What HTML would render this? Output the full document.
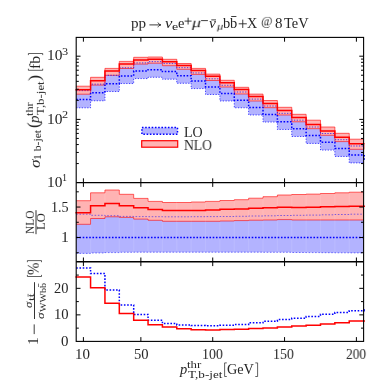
<!DOCTYPE html>
<html><head><meta charset="utf-8"><title>plot</title>
<style>
html,body{margin:0;padding:0;background:#fff;}
body{width:374px;height:380px;position:relative;overflow:hidden;font-family:"Liberation Serif",serif;color:#262626;}
.t{position:absolute;white-space:nowrap;line-height:1;transform-origin:0 0;will-change:transform;}
.tk{font-size:12.5px;}
.r{text-align:right;}
.rot{transform-origin:0 0;transform:rotate(-90deg);}
i{font-style:italic;}
</style></head><body>
<svg width="374" height="380" viewBox="0 0 374 380" style="position:absolute;left:0;top:0">
<rect width="374" height="380" fill="#fff"/>
<g>
<path d="M76.20 90.61 L90.57 90.61 L90.57 84.17 L104.94 84.17 L104.94 75.30 L119.31 75.30 L119.31 67.73 L133.68 67.73 L133.68 62.90 L148.05 62.90 L148.05 61.64 L162.42 61.64 L162.42 63.57 L176.79 63.57 L176.79 67.67 L191.16 67.67 L191.16 72.94 L205.53 72.94 L205.53 78.80 L219.90 78.80 L219.90 85.27 L234.27 85.27 L234.27 92.00 L248.64 92.00 L248.64 99.10 L263.01 99.10 L263.01 106.03 L277.38 106.03 L277.38 113.34 L291.75 113.34 L291.75 120.17 L306.12 120.17 L306.12 127.00 L320.49 127.00 L320.49 133.50 L334.86 133.50 L334.86 139.71 L349.23 139.71 L349.23 146.01 L363.60 146.01 L363.60 162.90 L349.23 162.90 L349.23 156.44 L334.86 156.44 L334.86 150.08 L320.49 150.08 L320.49 143.42 L306.12 143.42 L306.12 136.46 L291.75 136.46 L291.75 129.44 L277.38 129.44 L277.38 122.04 L263.01 122.04 L263.01 114.98 L248.64 114.98 L248.64 107.78 L234.27 107.78 L234.27 100.98 L219.90 100.98 L219.90 94.48 L205.53 94.48 L205.53 88.58 L191.16 88.58 L191.16 83.28 L176.79 83.28 L176.79 79.18 L162.42 79.18 L162.42 77.28 L148.05 77.28 L148.05 78.58 L133.68 78.58 L133.68 83.54 L119.31 83.54 L119.31 91.52 L104.94 91.52 L104.94 100.76 L90.57 100.76 L90.57 107.80 L76.20 107.80 Z" fill="#b3b3ff"/>
<path d="M76.20 86.20 L90.57 86.20 L90.57 77.30 L104.94 77.30 L104.94 68.40 L119.31 68.40 L119.31 61.40 L133.68 61.40 L133.68 57.30 L148.05 57.30 L148.05 57.00 L162.42 57.00 L162.42 59.30 L176.79 59.30 L176.79 63.50 L191.16 63.50 L191.16 68.40 L205.53 68.40 L205.53 74.10 L219.90 74.10 L219.90 80.30 L234.27 80.30 L234.27 87.30 L248.64 87.30 L248.64 94.10 L263.01 94.10 L263.01 100.50 L277.38 100.50 L277.38 107.30 L291.75 107.30 L291.75 114.30 L306.12 114.30 L306.12 120.20 L320.49 120.20 L320.49 127.00 L334.86 127.00 L334.86 133.30 L349.23 133.30 L349.23 139.20 L363.60 139.20 L363.60 149.30 L349.23 149.30 L349.23 141.60 L334.86 141.60 L334.86 135.30 L320.49 135.30 L320.49 128.70 L306.12 128.70 L306.12 121.80 L291.75 121.80 L291.75 115.00 L277.38 115.00 L277.38 107.70 L263.01 107.70 L263.01 101.00 L248.64 101.00 L248.64 94.00 L234.27 94.00 L234.27 87.00 L219.90 87.00 L219.90 80.50 L205.53 80.50 L205.53 74.40 L191.16 74.40 L191.16 69.30 L176.79 69.30 L176.79 65.70 L162.42 65.70 L162.42 63.20 L148.05 63.20 L148.05 64.10 L133.68 64.10 L133.68 68.50 L119.31 68.50 L119.31 75.30 L104.94 75.30 L104.94 85.10 L90.57 85.10 L90.57 94.20 L76.20 94.20 Z" fill="#ffb3b3"/>
<clipPath id="c1"><path d="M76.20 90.61 L90.57 90.61 L90.57 84.17 L104.94 84.17 L104.94 75.30 L119.31 75.30 L119.31 67.73 L133.68 67.73 L133.68 62.90 L148.05 62.90 L148.05 61.64 L162.42 61.64 L162.42 63.57 L176.79 63.57 L176.79 67.67 L191.16 67.67 L191.16 72.94 L205.53 72.94 L205.53 78.80 L219.90 78.80 L219.90 85.27 L234.27 85.27 L234.27 92.00 L248.64 92.00 L248.64 99.10 L263.01 99.10 L263.01 106.03 L277.38 106.03 L277.38 113.34 L291.75 113.34 L291.75 120.17 L306.12 120.17 L306.12 127.00 L320.49 127.00 L320.49 133.50 L334.86 133.50 L334.86 139.71 L349.23 139.71 L349.23 146.01 L363.60 146.01 L363.60 162.90 L349.23 162.90 L349.23 156.44 L334.86 156.44 L334.86 150.08 L320.49 150.08 L320.49 143.42 L306.12 143.42 L306.12 136.46 L291.75 136.46 L291.75 129.44 L277.38 129.44 L277.38 122.04 L263.01 122.04 L263.01 114.98 L248.64 114.98 L248.64 107.78 L234.27 107.78 L234.27 100.98 L219.90 100.98 L219.90 94.48 L205.53 94.48 L205.53 88.58 L191.16 88.58 L191.16 83.28 L176.79 83.28 L176.79 79.18 L162.42 79.18 L162.42 77.28 L148.05 77.28 L148.05 78.58 L133.68 78.58 L133.68 83.54 L119.31 83.54 L119.31 91.52 L104.94 91.52 L104.94 100.76 L90.57 100.76 L90.57 107.80 L76.20 107.80 Z"/><path d="M76.20 86.20 L90.57 86.20 L90.57 77.30 L104.94 77.30 L104.94 68.40 L119.31 68.40 L119.31 61.40 L133.68 61.40 L133.68 57.30 L148.05 57.30 L148.05 57.00 L162.42 57.00 L162.42 59.30 L176.79 59.30 L176.79 63.50 L191.16 63.50 L191.16 68.40 L205.53 68.40 L205.53 74.10 L219.90 74.10 L219.90 80.30 L234.27 80.30 L234.27 87.30 L248.64 87.30 L248.64 94.10 L263.01 94.10 L263.01 100.50 L277.38 100.50 L277.38 107.30 L291.75 107.30 L291.75 114.30 L306.12 114.30 L306.12 120.20 L320.49 120.20 L320.49 127.00 L334.86 127.00 L334.86 133.30 L349.23 133.30 L349.23 139.20 L363.60 139.20 L363.60 149.30 L349.23 149.30 L349.23 141.60 L334.86 141.60 L334.86 135.30 L320.49 135.30 L320.49 128.70 L306.12 128.70 L306.12 121.80 L291.75 121.80 L291.75 115.00 L277.38 115.00 L277.38 107.70 L263.01 107.70 L263.01 101.00 L248.64 101.00 L248.64 94.00 L234.27 94.00 L234.27 87.00 L219.90 87.00 L219.90 80.50 L205.53 80.50 L205.53 74.40 L191.16 74.40 L191.16 69.30 L176.79 69.30 L176.79 65.70 L162.42 65.70 L162.42 63.20 L148.05 63.20 L148.05 64.10 L133.68 64.10 L133.68 68.50 L119.31 68.50 L119.31 75.30 L104.94 75.30 L104.94 85.10 L90.57 85.10 L90.57 94.20 L76.20 94.20 Z"/></clipPath>
<path d="M90.57 37.4 V182.6 M104.94 37.4 V182.6 M119.31 37.4 V182.6 M133.68 37.4 V182.6 M148.05 37.4 V182.6 M162.42 37.4 V182.6 M176.79 37.4 V182.6 M191.16 37.4 V182.6 M205.53 37.4 V182.6 M219.90 37.4 V182.6 M234.27 37.4 V182.6 M248.64 37.4 V182.6 M263.01 37.4 V182.6 M277.38 37.4 V182.6 M291.75 37.4 V182.6 M306.12 37.4 V182.6 M320.49 37.4 V182.6 M334.86 37.4 V182.6 M349.23 37.4 V182.6" stroke="#fff" stroke-opacity="0.10" stroke-width="1.2" clip-path="url(#c1)"/>
<path d="M76.20 86.20 L90.57 86.20 L90.57 77.30 L104.94 77.30 L104.94 68.40 L119.31 68.40 L119.31 61.40 L133.68 61.40 L133.68 57.30 L148.05 57.30 L148.05 57.00 L162.42 57.00 L162.42 59.30 L176.79 59.30 L176.79 63.50 L191.16 63.50 L191.16 68.40 L205.53 68.40 L205.53 74.10 L219.90 74.10 L219.90 80.30 L234.27 80.30 L234.27 87.30 L248.64 87.30 L248.64 94.10 L263.01 94.10 L263.01 100.50 L277.38 100.50 L277.38 107.30 L291.75 107.30 L291.75 114.30 L306.12 114.30 L306.12 120.20 L320.49 120.20 L320.49 127.00 L334.86 127.00 L334.86 133.30 L349.23 133.30 L349.23 139.20 L363.60 139.20" fill="none" stroke="#ff0000" stroke-width="0.6"/>
<path d="M76.20 94.20 L90.57 94.20 L90.57 85.10 L104.94 85.10 L104.94 75.30 L119.31 75.30 L119.31 68.50 L133.68 68.50 L133.68 64.10 L148.05 64.10 L148.05 63.20 L162.42 63.20 L162.42 65.70 L176.79 65.70 L176.79 69.30 L191.16 69.30 L191.16 74.40 L205.53 74.40 L205.53 80.50 L219.90 80.50 L219.90 87.00 L234.27 87.00 L234.27 94.00 L248.64 94.00 L248.64 101.00 L263.01 101.00 L263.01 107.70 L277.38 107.70 L277.38 115.00 L291.75 115.00 L291.75 121.80 L306.12 121.80 L306.12 128.70 L320.49 128.70 L320.49 135.30 L334.86 135.30 L334.86 141.60 L349.23 141.60 L349.23 149.30 L363.60 149.30" fill="none" stroke="#ff0000" stroke-width="0.6"/>
<path d="M76.20 90.61 L90.57 90.61 L90.57 84.17 L104.94 84.17 L104.94 75.30 L119.31 75.30 L119.31 67.73 L133.68 67.73 L133.68 62.90 L148.05 62.90 L148.05 61.64 L162.42 61.64 L162.42 63.57 L176.79 63.57 L176.79 67.67 L191.16 67.67 L191.16 72.94 L205.53 72.94 L205.53 78.80 L219.90 78.80 L219.90 85.27 L234.27 85.27 L234.27 92.00 L248.64 92.00 L248.64 99.10 L263.01 99.10 L263.01 106.03 L277.38 106.03 L277.38 113.34 L291.75 113.34 L291.75 120.17 L306.12 120.17 L306.12 127.00 L320.49 127.00 L320.49 133.50 L334.86 133.50 L334.86 139.71 L349.23 139.71 L349.23 146.01 L363.60 146.01" fill="none" stroke="#0000ff" stroke-width="0.7" stroke-dasharray="1.3 1.45"/>
<path d="M76.20 107.80 L90.57 107.80 L90.57 100.76 L104.94 100.76 L104.94 91.52 L119.31 91.52 L119.31 83.54 L133.68 83.54 L133.68 78.58 L148.05 78.58 L148.05 77.28 L162.42 77.28 L162.42 79.18 L176.79 79.18 L176.79 83.28 L191.16 83.28 L191.16 88.58 L205.53 88.58 L205.53 94.48 L219.90 94.48 L219.90 100.98 L234.27 100.98 L234.27 107.78 L248.64 107.78 L248.64 114.98 L263.01 114.98 L263.01 122.04 L277.38 122.04 L277.38 129.44 L291.75 129.44 L291.75 136.46 L306.12 136.46 L306.12 143.42 L320.49 143.42 L320.49 150.08 L334.86 150.08 L334.86 156.44 L349.23 156.44 L349.23 162.90 L363.60 162.90" fill="none" stroke="#0000ff" stroke-width="0.7" stroke-dasharray="1.3 1.45"/>
<path d="M76.20 99.50 L90.57 99.50 L90.57 92.70 L104.94 92.70 L104.94 83.70 L119.31 83.70 L119.31 75.90 L133.68 75.90 L133.68 71.00 L148.05 71.00 L148.05 69.70 L162.42 69.70 L162.42 71.60 L176.79 71.60 L176.79 75.70 L191.16 75.70 L191.16 81.00 L205.53 81.00 L205.53 86.90 L219.90 86.90 L219.90 93.40 L234.27 93.40 L234.27 100.20 L248.64 100.20 L248.64 107.40 L263.01 107.40 L263.01 114.40 L277.38 114.40 L277.38 121.80 L291.75 121.80 L291.75 128.70 L306.12 128.70 L306.12 135.60 L320.49 135.60 L320.49 142.20 L334.86 142.20 L334.86 148.50 L349.23 148.50 L349.23 154.90 L364.20 154.90 L364.20 161.20" fill="none" stroke="#0000ff" stroke-width="1.5" stroke-dasharray="1.6 1.65"/>
<path d="M76.20 89.80 L90.57 89.80 L90.57 80.70 L104.94 80.70 L104.94 70.90 L119.31 70.90 L119.31 64.10 L133.68 64.10 L133.68 60.10 L148.05 60.10 L148.05 59.30 L162.42 59.30 L162.42 61.70 L176.79 61.70 L176.79 65.40 L191.16 65.40 L191.16 70.40 L205.53 70.40 L205.53 76.20 L219.90 76.20 L219.90 82.70 L234.27 82.70 L234.27 89.60 L248.64 89.60 L248.64 96.50 L263.01 96.50 L263.01 103.40 L277.38 103.40 L277.38 110.50 L291.75 110.50 L291.75 117.50 L306.12 117.50 L306.12 124.40 L320.49 124.40 L320.49 131.00 L334.86 131.00 L334.86 137.30 L349.23 137.30 L349.23 143.70 L364.20 143.70" fill="none" stroke="#ff0000" stroke-width="1.5" stroke-linejoin="miter" stroke-linecap="square"/>
</g>
<g>
<path d="M76.20 214.20 L90.57 214.20 L90.57 215.30 L104.94 215.30 L104.94 215.70 L119.31 215.70 L119.31 216.40 L133.68 216.40 L133.68 216.60 L148.05 216.60 L148.05 216.70 L162.42 216.70 L162.42 216.80 L176.79 216.80 L176.79 216.80 L191.16 216.80 L191.16 216.70 L205.53 216.70 L205.53 216.60 L219.90 216.60 L219.90 216.50 L234.27 216.50 L234.27 216.30 L248.64 216.30 L248.64 216.00 L263.01 216.00 L263.01 215.80 L277.38 215.80 L277.38 215.50 L291.75 215.50 L291.75 215.30 L306.12 215.30 L306.12 215.10 L320.49 215.10 L320.49 214.80 L334.86 214.80 L334.86 214.50 L349.23 214.50 L349.23 214.20 L363.60 214.20 L363.60 252.90 L349.23 252.90 L349.23 252.80 L334.86 252.80 L334.86 252.70 L320.49 252.70 L320.49 252.60 L306.12 252.60 L306.12 252.50 L291.75 252.50 L291.75 252.30 L277.38 252.30 L277.38 252.30 L263.01 252.30 L263.01 252.20 L248.64 252.20 L248.64 252.20 L234.27 252.20 L234.27 252.20 L219.90 252.20 L219.90 252.20 L205.53 252.20 L205.53 252.20 L191.16 252.20 L191.16 252.20 L176.79 252.20 L176.79 252.20 L162.42 252.20 L162.42 252.20 L148.05 252.20 L148.05 252.20 L133.68 252.20 L133.68 252.30 L119.31 252.30 L119.31 252.60 L104.94 252.60 L104.94 253.00 L90.57 253.00 L90.57 253.40 L76.20 253.40 Z" fill="#b3b3ff"/>
<path d="M76.20 200.70 L90.57 200.70 L90.57 192.80 L104.94 192.80 L104.94 190.00 L119.31 190.00 L119.31 194.30 L133.68 194.30 L133.68 198.40 L148.05 198.40 L148.05 201.40 L162.42 201.40 L162.42 202.50 L176.79 202.50 L176.79 202.50 L191.16 202.50 L191.16 202.00 L205.53 202.00 L205.53 201.40 L219.90 201.40 L219.90 200.50 L234.27 200.50 L234.27 199.70 L248.64 199.70 L248.64 198.20 L263.01 198.20 L263.01 196.70 L277.38 196.70 L277.38 195.00 L291.75 195.00 L291.75 194.50 L306.12 194.50 L306.12 194.10 L320.49 194.10 L320.49 193.50 L334.86 193.50 L334.86 192.80 L349.23 192.80 L349.23 192.20 L363.60 192.20 L363.60 220.00 L349.23 220.00 L349.23 220.00 L334.86 220.00 L334.86 220.00 L320.49 220.00 L320.49 220.00 L306.12 220.00 L306.12 220.00 L291.75 220.00 L291.75 219.60 L277.38 219.60 L277.38 220.00 L263.01 220.00 L263.01 220.20 L248.64 220.20 L248.64 220.60 L234.27 220.60 L234.27 221.00 L219.90 221.00 L219.90 221.30 L205.53 221.30 L205.53 221.30 L191.16 221.30 L191.16 221.30 L176.79 221.30 L176.79 221.30 L162.42 221.30 L162.42 220.30 L148.05 220.30 L148.05 219.10 L133.68 219.10 L133.68 217.40 L119.31 217.40 L119.31 216.80 L104.94 216.80 L104.94 218.50 L90.57 218.50 L90.57 224.30 L76.20 224.30 Z" fill="#ffb3b3"/>
<clipPath id="c2"><path d="M76.20 214.20 L90.57 214.20 L90.57 215.30 L104.94 215.30 L104.94 215.70 L119.31 215.70 L119.31 216.40 L133.68 216.40 L133.68 216.60 L148.05 216.60 L148.05 216.70 L162.42 216.70 L162.42 216.80 L176.79 216.80 L176.79 216.80 L191.16 216.80 L191.16 216.70 L205.53 216.70 L205.53 216.60 L219.90 216.60 L219.90 216.50 L234.27 216.50 L234.27 216.30 L248.64 216.30 L248.64 216.00 L263.01 216.00 L263.01 215.80 L277.38 215.80 L277.38 215.50 L291.75 215.50 L291.75 215.30 L306.12 215.30 L306.12 215.10 L320.49 215.10 L320.49 214.80 L334.86 214.80 L334.86 214.50 L349.23 214.50 L349.23 214.20 L363.60 214.20 L363.60 252.90 L349.23 252.90 L349.23 252.80 L334.86 252.80 L334.86 252.70 L320.49 252.70 L320.49 252.60 L306.12 252.60 L306.12 252.50 L291.75 252.50 L291.75 252.30 L277.38 252.30 L277.38 252.30 L263.01 252.30 L263.01 252.20 L248.64 252.20 L248.64 252.20 L234.27 252.20 L234.27 252.20 L219.90 252.20 L219.90 252.20 L205.53 252.20 L205.53 252.20 L191.16 252.20 L191.16 252.20 L176.79 252.20 L176.79 252.20 L162.42 252.20 L162.42 252.20 L148.05 252.20 L148.05 252.20 L133.68 252.20 L133.68 252.30 L119.31 252.30 L119.31 252.60 L104.94 252.60 L104.94 253.00 L90.57 253.00 L90.57 253.40 L76.20 253.40 Z"/><path d="M76.20 200.70 L90.57 200.70 L90.57 192.80 L104.94 192.80 L104.94 190.00 L119.31 190.00 L119.31 194.30 L133.68 194.30 L133.68 198.40 L148.05 198.40 L148.05 201.40 L162.42 201.40 L162.42 202.50 L176.79 202.50 L176.79 202.50 L191.16 202.50 L191.16 202.00 L205.53 202.00 L205.53 201.40 L219.90 201.40 L219.90 200.50 L234.27 200.50 L234.27 199.70 L248.64 199.70 L248.64 198.20 L263.01 198.20 L263.01 196.70 L277.38 196.70 L277.38 195.00 L291.75 195.00 L291.75 194.50 L306.12 194.50 L306.12 194.10 L320.49 194.10 L320.49 193.50 L334.86 193.50 L334.86 192.80 L349.23 192.80 L349.23 192.20 L363.60 192.20 L363.60 220.00 L349.23 220.00 L349.23 220.00 L334.86 220.00 L334.86 220.00 L320.49 220.00 L320.49 220.00 L306.12 220.00 L306.12 220.00 L291.75 220.00 L291.75 219.60 L277.38 219.60 L277.38 220.00 L263.01 220.00 L263.01 220.20 L248.64 220.20 L248.64 220.60 L234.27 220.60 L234.27 221.00 L219.90 221.00 L219.90 221.30 L205.53 221.30 L205.53 221.30 L191.16 221.30 L191.16 221.30 L176.79 221.30 L176.79 221.30 L162.42 221.30 L162.42 220.30 L148.05 220.30 L148.05 219.10 L133.68 219.10 L133.68 217.40 L119.31 217.40 L119.31 216.80 L104.94 216.80 L104.94 218.50 L90.57 218.50 L90.57 224.30 L76.20 224.30 Z"/></clipPath>
<path d="M90.57 182.6 V261.8 M104.94 182.6 V261.8 M119.31 182.6 V261.8 M133.68 182.6 V261.8 M148.05 182.6 V261.8 M162.42 182.6 V261.8 M176.79 182.6 V261.8 M191.16 182.6 V261.8 M205.53 182.6 V261.8 M219.90 182.6 V261.8 M234.27 182.6 V261.8 M248.64 182.6 V261.8 M263.01 182.6 V261.8 M277.38 182.6 V261.8 M291.75 182.6 V261.8 M306.12 182.6 V261.8 M320.49 182.6 V261.8 M334.86 182.6 V261.8 M349.23 182.6 V261.8" stroke="#fff" stroke-opacity="0.10" stroke-width="1.2" clip-path="url(#c2)"/>
<path d="M76.20 200.70 L90.57 200.70 L90.57 192.80 L104.94 192.80 L104.94 190.00 L119.31 190.00 L119.31 194.30 L133.68 194.30 L133.68 198.40 L148.05 198.40 L148.05 201.40 L162.42 201.40 L162.42 202.50 L176.79 202.50 L176.79 202.50 L191.16 202.50 L191.16 202.00 L205.53 202.00 L205.53 201.40 L219.90 201.40 L219.90 200.50 L234.27 200.50 L234.27 199.70 L248.64 199.70 L248.64 198.20 L263.01 198.20 L263.01 196.70 L277.38 196.70 L277.38 195.00 L291.75 195.00 L291.75 194.50 L306.12 194.50 L306.12 194.10 L320.49 194.10 L320.49 193.50 L334.86 193.50 L334.86 192.80 L349.23 192.80 L349.23 192.20 L363.60 192.20" fill="none" stroke="#ff0000" stroke-width="0.6"/>
<path d="M76.20 224.30 L90.57 224.30 L90.57 218.50 L104.94 218.50 L104.94 216.80 L119.31 216.80 L119.31 217.40 L133.68 217.40 L133.68 219.10 L148.05 219.10 L148.05 220.30 L162.42 220.30 L162.42 221.30 L176.79 221.30 L176.79 221.30 L191.16 221.30 L191.16 221.30 L205.53 221.30 L205.53 221.30 L219.90 221.30 L219.90 221.00 L234.27 221.00 L234.27 220.60 L248.64 220.60 L248.64 220.20 L263.01 220.20 L263.01 220.00 L277.38 220.00 L277.38 219.60 L291.75 219.60 L291.75 220.00 L306.12 220.00 L306.12 220.00 L320.49 220.00 L320.49 220.00 L334.86 220.00 L334.86 220.00 L349.23 220.00 L349.23 220.00 L363.60 220.00" fill="none" stroke="#ff0000" stroke-width="0.6"/>
<path d="M76.20 214.20 L90.57 214.20 L90.57 215.30 L104.94 215.30 L104.94 215.70 L119.31 215.70 L119.31 216.40 L133.68 216.40 L133.68 216.60 L148.05 216.60 L148.05 216.70 L162.42 216.70 L162.42 216.80 L176.79 216.80 L176.79 216.80 L191.16 216.80 L191.16 216.70 L205.53 216.70 L205.53 216.60 L219.90 216.60 L219.90 216.50 L234.27 216.50 L234.27 216.30 L248.64 216.30 L248.64 216.00 L263.01 216.00 L263.01 215.80 L277.38 215.80 L277.38 215.50 L291.75 215.50 L291.75 215.30 L306.12 215.30 L306.12 215.10 L320.49 215.10 L320.49 214.80 L334.86 214.80 L334.86 214.50 L349.23 214.50 L349.23 214.20 L363.60 214.20" fill="none" stroke="#0000ff" stroke-width="0.5" stroke-dasharray="1.6 1.65"/>
<path d="M76.20 253.40 L90.57 253.40 L90.57 253.00 L104.94 253.00 L104.94 252.60 L119.31 252.60 L119.31 252.30 L133.68 252.30 L133.68 252.20 L148.05 252.20 L148.05 252.20 L162.42 252.20 L162.42 252.20 L176.79 252.20 L176.79 252.20 L191.16 252.20 L191.16 252.20 L205.53 252.20 L205.53 252.20 L219.90 252.20 L219.90 252.20 L234.27 252.20 L234.27 252.20 L248.64 252.20 L248.64 252.20 L263.01 252.20 L263.01 252.30 L277.38 252.30 L277.38 252.30 L291.75 252.30 L291.75 252.50 L306.12 252.50 L306.12 252.60 L320.49 252.60 L320.49 252.70 L334.86 252.70 L334.86 252.80 L349.23 252.80 L349.23 252.90 L363.60 252.90" fill="none" stroke="#0000ff" stroke-width="0.5" stroke-dasharray="1.6 1.65"/>
<path d="M76.20 237.50 H364.30" fill="none" stroke="#0000ff" stroke-width="1.5" stroke-dasharray="1.6 1.65"/>
<path d="M76.20 212.70 L90.57 212.70 L90.57 205.70 L104.94 205.70 L104.94 203.50 L119.31 203.50 L119.31 205.70 L133.68 205.70 L133.68 207.80 L148.05 207.80 L148.05 209.60 L162.42 209.60 L162.42 210.60 L176.79 210.60 L176.79 210.60 L191.16 210.60 L191.16 210.40 L205.53 210.40 L205.53 209.90 L219.90 209.90 L219.90 209.30 L234.27 209.30 L234.27 208.90 L248.64 208.90 L248.64 208.20 L263.01 208.20 L263.01 207.80 L277.38 207.80 L277.38 207.20 L291.75 207.20 L291.75 207.40 L306.12 207.40 L306.12 207.20 L320.49 207.20 L320.49 206.70 L334.86 206.70 L334.86 206.50 L349.23 206.50 L349.23 206.30 L364.20 206.30" fill="none" stroke="#ff0000" stroke-width="1.5" stroke-linecap="square"/>
</g>
<g>
<path d="M76.20 268.10 L90.57 268.10 L90.57 273.50 L104.94 273.50 L104.94 290.00 L119.31 290.00 L119.31 304.90 L133.68 304.90 L133.68 314.40 L148.05 314.40 L148.05 320.20 L162.42 320.20 L162.42 323.40 L176.79 323.40 L176.79 324.90 L191.16 324.90 L191.16 325.60 L205.53 325.60 L205.53 325.80 L219.90 325.80 L219.90 325.20 L234.27 325.20 L234.27 324.50 L248.64 324.50 L248.64 322.80 L263.01 322.80 L263.01 321.30 L277.38 321.30 L277.38 319.60 L291.75 319.60 L291.75 318.30 L306.12 318.30 L306.12 316.40 L320.49 316.40 L320.49 314.20 L334.86 314.20 L334.86 312.40 L349.23 312.40 L349.23 310.70 L364.20 310.70 L364.20 309.30" fill="none" stroke="#0000ff" stroke-width="1.5" stroke-dasharray="1.6 1.65"/>
<path d="M76.20 277.10 L90.57 277.10 L90.57 287.80 L104.94 287.80 L104.94 303.20 L119.31 303.20 L119.31 313.50 L133.68 313.50 L133.68 320.30 L148.05 320.30 L148.05 324.80 L162.42 324.80 L162.42 327.10 L176.79 327.10 L176.79 328.80 L191.16 328.80 L191.16 329.80 L205.53 329.80 L205.53 330.00 L219.90 330.00 L219.90 329.50 L234.27 329.50 L234.27 329.20 L248.64 329.20 L248.64 328.60 L263.01 328.60 L263.01 327.90 L277.38 327.90 L277.38 327.10 L291.75 327.10 L291.75 325.90 L306.12 325.90 L306.12 325.30 L320.49 325.30 L320.49 323.90 L334.86 323.90 L334.86 322.70 L349.23 322.70 L349.23 321.00 L364.20 321.00" fill="none" stroke="#ff0000" stroke-width="1.5" stroke-linecap="square"/>
</g>
<rect x="363.60" y="143.3" width="1.3" height="6.2" fill="#ffb0b0"/>
<g stroke="#000" stroke-width="1.10" fill="none" stroke-linecap="butt">
<rect x="76.20" y="37.40" width="287.40" height="304.00"/>
<path d="M76.20 182.60 H363.60 M76.20 261.80 H363.60" stroke-width="1.4"/>
</g>
<g stroke="#000" stroke-width="1.0" fill="none">
<path d="M83.40 37.40 v4.30"/>
<path d="M83.40 178.30 v8.60"/>
<path d="M83.40 257.50 v8.60"/>
<path d="M83.40 337.10 v4.30"/>
<path d="M140.87 37.40 v4.30"/>
<path d="M140.87 178.30 v8.60"/>
<path d="M140.87 257.50 v8.60"/>
<path d="M140.87 337.10 v4.30"/>
<path d="M212.72 37.40 v4.30"/>
<path d="M212.72 178.30 v8.60"/>
<path d="M212.72 257.50 v8.60"/>
<path d="M212.72 337.10 v4.30"/>
<path d="M284.56 37.40 v4.30"/>
<path d="M284.56 178.30 v8.60"/>
<path d="M284.56 257.50 v8.60"/>
<path d="M284.56 337.10 v4.30"/>
<path d="M356.40 37.40 v4.30"/>
<path d="M356.40 178.30 v8.60"/>
<path d="M356.40 257.50 v8.60"/>
<path d="M356.40 337.10 v4.30"/>
<path d="M76.20 163.57 h2.60 M363.60 163.57 h-2.60"/>
<path d="M76.20 152.45 h2.60 M363.60 152.45 h-2.60"/>
<path d="M76.20 144.55 h2.60 M363.60 144.55 h-2.60"/>
<path d="M76.20 138.43 h2.60 M363.60 138.43 h-2.60"/>
<path d="M76.20 133.42 h2.60 M363.60 133.42 h-2.60"/>
<path d="M76.20 129.19 h2.60 M363.60 129.19 h-2.60"/>
<path d="M76.20 125.52 h2.60 M363.60 125.52 h-2.60"/>
<path d="M76.20 122.29 h2.60 M363.60 122.29 h-2.60"/>
<path d="M76.20 119.40 h4.30 M363.60 119.40 h-4.30"/>
<path d="M76.20 100.37 h2.60 M363.60 100.37 h-2.60"/>
<path d="M76.20 89.25 h2.60 M363.60 89.25 h-2.60"/>
<path d="M76.20 81.35 h2.60 M363.60 81.35 h-2.60"/>
<path d="M76.20 75.23 h2.60 M363.60 75.23 h-2.60"/>
<path d="M76.20 70.22 h2.60 M363.60 70.22 h-2.60"/>
<path d="M76.20 65.99 h2.60 M363.60 65.99 h-2.60"/>
<path d="M76.20 62.32 h2.60 M363.60 62.32 h-2.60"/>
<path d="M76.20 59.09 h2.60 M363.60 59.09 h-2.60"/>
<path d="M76.20 56.20 h4.30 M363.60 56.20 h-4.30"/>
<path d="M76.20 252.72 h2.60 M363.60 252.72 h-2.60"/>
<path d="M76.20 237.50 h4.30 M363.60 237.50 h-4.30"/>
<path d="M76.20 222.28 h2.60 M363.60 222.28 h-2.60"/>
<path d="M76.20 207.05 h4.30 M363.60 207.05 h-4.30"/>
<path d="M76.20 191.82 h2.60 M363.60 191.82 h-2.60"/>
<path d="M76.20 328.13 h2.60 M363.60 328.13 h-2.60"/>
<path d="M76.20 314.87 h4.30 M363.60 314.87 h-4.30"/>
<path d="M76.20 301.60 h2.60 M363.60 301.60 h-2.60"/>
<path d="M76.20 288.33 h4.30 M363.60 288.33 h-4.30"/>
<path d="M76.20 275.07 h2.60 M363.60 275.07 h-2.60"/>
</g>
<rect x="141.9" y="127.6" width="35.6" height="6.6" fill="#b3b3ff" stroke="#0000ff" stroke-width="1.5" stroke-dasharray="1.6 1.65"/>
<rect x="141.7" y="140.7" width="36" height="6.5" fill="#ffb3b3" stroke="#ff0000" stroke-width="1.2"/>
<g stroke="#1c1c1c" fill="none" stroke-width="0.85">
<path d="M149.4 24.9 H160.6"/>
<path d="M157.9 22.5 C158.4 23.7 159.4 24.5 160.9 24.9 C159.4 25.3 158.4 26.1 157.9 27.3"/>
<path d="M184.6 21.1 H191.6 M188.1 17.7 V24.5"/>
<path d="M201.1 20.6 H207.9"/>
<path d="M211.3 19.9 H216.0"/>
<path d="M231.2 16.5 H236.4"/>
<path d="M238.7 23.8 H246.8 M242.75 19.6 V28.0"/>
<path d="M27.4 274.9 V276.5 H41.5 V274.9 M27.4 262.2 V260.6 H41.5 V262.2" stroke-width="0.7"/>
<path d="M28.4 68.7 V70.3 H42.7 V68.7 M28.4 55.1 V53.5 H42.7 V55.1" stroke-width="0.7"/>
<path d="M226.8 362.9 H224.6 V376.5 H226.8 M255.3 362.9 H257.6 V376.5 H255.3" stroke-width="0.7"/>
<path d="M34.2 324.4 V334.1"/>
<path d="M36.0 210.2 V234.2" stroke-width="0.9"/>
<path d="M34.5 282.2 V319.0" stroke-width="0.9"/>
<path d="M28.1 293.9 V296.7" stroke-width="0.6"/>
<path d="M38.5 283.6 V287.0" stroke-width="0.6"/>
</g>
</svg>
<div class="t" id="x10" style="left:74.99px;top:347.90px;font-size:14px;transform:scale(1.069,0.989);">10</div>
<div class="t" id="x50" style="left:133.61px;top:348.40px;font-size:14px;transform:scale(1.043,0.989);">50</div>
<div class="t" id="x100" style="left:201.86px;top:347.98px;font-size:14px;transform:scale(0.992,0.989);">100</div>
<div class="t" id="x150" style="left:272.91px;top:348.02px;font-size:14px;transform:scale(0.992,0.989);">150</div>
<div class="t" id="x200" style="left:345.91px;top:348.00px;font-size:14px;transform:scale(0.955,0.989);">200</div>
<div class="t" id="y3" style="left:46.52px;top:49.32px;font-size:14px;transform:scale(1.102,1.000);">10</div>
<div class="t" id="y3e" style="left:61.69px;top:45.86px;font-size:10px;transform:scale(1.225,1.067);">3</div>
<div class="t" id="y2" style="left:46.82px;top:113.15px;font-size:14px;transform:scale(1.102,1.000);">10</div>
<div class="t" id="y2e" style="left:61.89px;top:109.10px;font-size:10px;transform:scale(1.225,1.067);">2</div>
<div class="t" id="y1" style="left:46.82px;top:176.35px;font-size:14px;transform:scale(1.102,1.000);">10</div>
<div class="t" id="y1e" style="left:61.93px;top:171.52px;font-size:10px;transform:scale(1.013,1.067);">1</div>
<div class="t" id="r15" style="left:51.04px;top:201.06px;font-size:14px;transform:scale(1.010,0.989);">1.5</div>
<div class="t" id="r1" style="left:60.53px;top:231.26px;font-size:14px;transform:scale(1.120,1.016);">1</div>
<div class="t" id="p20" style="left:54.41px;top:281.75px;font-size:14px;transform:scale(1.031,1.000);">20</div>
<div class="t" id="p10" style="left:54.49px;top:308.49px;font-size:14px;transform:scale(1.045,1.000);">10</div>
<div class="t" id="p0" style="left:61.47px;top:335.33px;font-size:14px;transform:scale(1.067,1.021);">0</div>
<div class="t" id="lLO" style="left:184.41px;top:125.60px;font-size:14px;transform:scale(0.989,1.000);">LO</div>
<div class="t" id="lNLO" style="left:184.32px;top:138.83px;font-size:14px;transform:scale(0.969,1.021);">NLO</div>
<div class="t" id="t_pp" style="left:131.23px;top:17.40px;font-size:14px;transform:scale(1.079,0.985);">pp</div>
<div class="t" id="t_nu" style="left:164.89px;top:15.64px;font-size:14px;transform:scale(1.183,1.052);"><i>ν</i></div>
<div class="t" id="t_se" style="left:172.40px;top:20.87px;font-size:10px;transform:scale(1.400,1.095);">e</div>
<div class="t" id="t_e" style="left:178.19px;top:15.53px;font-size:14px;transform:scale(1.029,1.052);">e</div>
<div class="t" id="t_mu" style="left:191.70px;top:17.36px;font-size:14px;transform:scale(1.277,0.926);"><i>μ</i></div>
<div class="t" id="t_nu2" style="left:208.96px;top:15.53px;font-size:14px;transform:scale(1.100,1.052);"><i>ν</i></div>
<div class="t" id="t_smu" style="left:216.50px;top:22.33px;font-size:10px;transform:scale(1.221,0.948);"><i>μ</i></div>
<div class="t" id="t_b1" style="left:223.40px;top:17.04px;font-size:14px;transform:scale(1.031,1.040);">b</div>
<div class="t" id="t_b2" style="left:229.95px;top:16.66px;font-size:14px;transform:scale(1.031,1.040);">b</div>
<div class="t" id="t_X" style="left:247.25px;top:17.33px;font-size:14px;transform:scale(1.011,1.027);">X</div>
<div class="t" id="t_at" style="left:261.25px;top:16.35px;font-size:14px;transform:scale(0.887,0.850);">@</div>
<div class="t" id="t_8" style="left:275.37px;top:17.23px;font-size:14px;transform:scale(1.067,1.032);">8</div>
<div class="t" id="t_TeV" style="left:283.64px;top:17.34px;font-size:14px;transform:scale(1.026,1.011);">TeV</div>
<div class="t" id="xl_p" style="left:179.92px;top:361.97px;font-size:14px;transform:scale(1.034,1.084);"><i>p</i></div>
<div class="t" id="xl_thr" style="left:186.81px;top:360.10px;font-size:10px;transform:scale(1.284,1.014);">thr</div>
<div class="t" id="xl_T" style="left:187.80px;top:369.95px;font-size:10px;transform:scale(1.312,0.995);">T,b-jet</div>
<div class="t" id="xl_GeV" style="left:227.12px;top:362.43px;font-size:14px;transform:scale(1.017,1.074);">GeV</div>
<div class="t" id="yl_s" style="left:29.49px;top:168.42px;font-size:14px;transform:scale(0.987,1.244) rotate(-90deg);"><i>σ</i></div>
<div class="t" id="yl_1b" style="left:32.44px;top:160.06px;font-size:10px;transform:scale(1.070,1.164) rotate(-90deg);">1 b-jet</div>
<div class="t" id="yl_lp" style="left:26.11px;top:127.67px;font-size:14px;transform:scale(1.208,1.227) rotate(-90deg);">(</div>
<div class="t" id="yl_p" style="left:26.77px;top:123.25px;font-size:14px;transform:scale(1.084,1.076) rotate(-90deg);"><i>p</i></div>
<div class="t" id="yl_thr" style="left:24.11px;top:115.67px;font-size:10px;transform:scale(1.100,1.237) rotate(-90deg);">thr</div>
<div class="t" id="yl_T" style="left:35.04px;top:114.98px;font-size:10px;transform:scale(1.114,1.285) rotate(-90deg);">T,b-jet</div>
<div class="t" id="yl_rp" style="left:27.40px;top:80.66px;font-size:14px;transform:scale(1.192,1.314) rotate(-90deg);">)</div>
<div class="t" id="yl_fb" style="left:29.00px;top:68.76px;font-size:14px;transform:scale(1.015,1.126) rotate(-90deg);">fb</div>
<div class="t" id="f_NLO" style="left:24.32px;top:233.58px;font-size:10.5px;transform:scale(1.171,1.081) rotate(-90deg);">NLO</div>
<div class="t" id="f_LO" style="left:36.29px;top:230.31px;font-size:10.5px;transform:scale(1.157,1.192) rotate(-90deg);">LO</div>
<div class="t" id="l3_1" style="left:27.40px;top:345.06px;font-size:14px;transform:scale(1.005,1.100) rotate(-90deg);">1</div>
<div class="t" id="l3_sn" style="left:23.26px;top:308.06px;font-size:10px;transform:scale(1.067,1.280) rotate(-90deg);"><i>σ</i></div>
<div class="t" id="l3_tt" style="left:26.58px;top:301.10px;font-size:8.5px;transform:scale(1.032,1.558) rotate(-90deg);">tt</div>
<div class="t" id="l3_sd" style="left:36.40px;top:319.13px;font-size:10px;transform:scale(1.029,1.320) rotate(-90deg);"><i>σ</i></div>
<div class="t" id="l3_WW" style="left:39.36px;top:311.90px;font-size:8px;transform:scale(1.078,1.253) rotate(-90deg);">WWbb</div>
<div class="t" id="l3_pc" style="left:25.43px;top:275.05px;font-size:14px;transform:scale(1.263,1.060) rotate(-90deg);">%</div>
</body></html>
